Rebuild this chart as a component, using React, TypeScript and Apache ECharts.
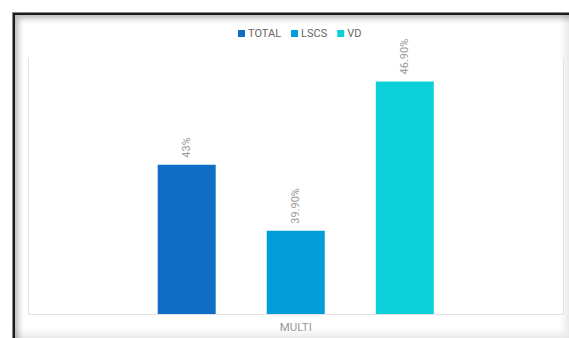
import React, { useEffect, useRef } from "react";
import * as echarts from "echarts";

const categories = ["MULTI"];
const seriesNames = ["TOTAL", "LSCS", "VD"];
const seriesValues = [[43], [39.9], [46.9]];
const seriesColors = ["#0F6FC6", "#009DD9", "#0BD0D9"];

const fmt = (v: number) => (Number.isInteger(v) ? `${v}%` : `${v.toFixed(2)}%`);

export default function App() {
  const ref = useRef<HTMLDivElement>(null);
  useEffect(() => {
    if (!ref.current) return;
    const chart = echarts.init(ref.current, null, { renderer: "svg" });
    chart.setOption({
      animation: false,
      textStyle: { fontFamily: "Roboto, 'Liberation Sans', sans-serif" },
      legend: {
        top: 15,
        left: 225,
        itemWidth: 7,
        itemHeight: 7,
        itemGap: 10,
        icon: "rect",
        textStyle: { color: "#666", fontSize: 11, padding: [0, 0, 0, -2] },
        data: seriesNames,
      },
      grid: { left: 20, right: 5.5, top: 50, bottom: 24, containLabel: false },
      xAxis: {
        type: "category",
        data: categories,
        axisLine: { show: true, lineStyle: { color: "#e2e2e2", width: 1 } },
        axisTick: { show: false },
        axisLabel: { color: "#999", fontSize: 11.5, margin: 7 },
      },
      yAxis: [
        {
          type: "value",
          min: 36,
          max: 48,
          position: "left",
          axisLine: { show: true, lineStyle: { color: "#e2e2e2" } },
          axisLabel: { show: false },
          axisTick: { show: false },
          splitLine: { show: false },
        },
        {
          type: "value",
          min: 36,
          max: 48,
          position: "right",
          axisLine: { show: true, lineStyle: { color: "#e2e2e2" } },
          axisLabel: { show: false },
          axisTick: { show: false },
          splitLine: { show: false },
        },
      ],
      series: seriesNames.map((name, i) => ({
        name,
        type: "bar",
        data: seriesValues[i],
        barWidth: 58,
        barGap: "88%",
        itemStyle: { color: seriesColors[i] },
        label: {
          show: true,
          position: "top",
          rotate: 90,
          align: "left",
          verticalAlign: "middle",
          distance: 7,
          color: "#999",
          fontSize: 11,
          formatter: (p: any) => fmt(p.value),
        },
      })),
    });
    return () => chart.dispose();
  }, []);

  return (
    <div>
      <div
        style={{
          position: "fixed",
          left: 12,
          top: 12,
          width: 557,
          height: 326,
          boxSizing: "border-box",
          borderTop: "1px solid #888",
          borderLeft: "1px solid #888",
          background: "#fff",
          boxShadow:
            "inset 2px 2px 0 #1a1a1a, inset 5px 5px 6px rgba(0,0,0,0.3), inset -5px -5px 6px rgba(0,0,0,0.08)",
        }}
      />
      <div ref={ref} style={{ position: "fixed", left: 8, top: 8, width: 561, height: 330 }} />
    </div>
  );
}
